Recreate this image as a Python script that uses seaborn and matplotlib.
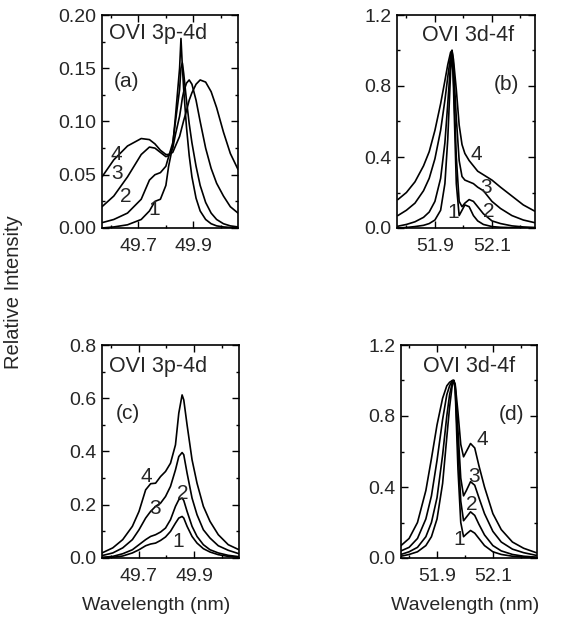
import numpy as np
import pandas as pd
import matplotlib
matplotlib.use("Agg")
import matplotlib.pyplot as plt
from matplotlib.ticker import MultipleLocator, FormatStrFormatter
import seaborn as sns

sns.set_style("ticks")
plt.rcParams['font.family'] = ['Liberation Sans', 'DejaVu Sans']

# ---------------- data ----------------
curves = ["1", "2", "3", "4"]

# panel (a) OVI 3p-4d
a_wl = [49.567, 49.61, 49.66, 49.71, 49.74, 49.76, 49.78, 49.80, 49.81, 49.825,
        49.835, 49.85, 49.855, 49.86, 49.865, 49.875, 49.885, 49.895, 49.91, 49.925,
        49.945, 49.965, 49.985, 50.01, 50.035, 50.063]
a_y1 = [0.0, 0.001, 0.003, 0.008, 0.016, 0.025, 0.027, 0.040, 0.058, 0.077,
        0.105, 0.150, 0.178, 0.152, 0.130, 0.095, 0.068, 0.048, 0.028, 0.016,
        0.008, 0.004, 0.002, 0.001, 0.0005, 0.0]
a_y2 = [0.005, 0.008, 0.014, 0.027, 0.045, 0.050, 0.052, 0.058, 0.067, 0.080,
        0.100, 0.130, 0.150, 0.155, 0.145, 0.120, 0.098, 0.080, 0.058, 0.040,
        0.024, 0.014, 0.008, 0.004, 0.002, 0.001]
a_y3 = [0.020, 0.030, 0.048, 0.069, 0.076, 0.075, 0.071, 0.067, 0.068, 0.075,
        0.088, 0.105, 0.113, 0.122, 0.128, 0.136, 0.139, 0.135, 0.120, 0.100,
        0.075, 0.056, 0.042, 0.030, 0.020, 0.014]
a_y4 = [0.048, 0.064, 0.077, 0.084, 0.083, 0.079, 0.073, 0.069, 0.069, 0.071,
        0.077, 0.086, 0.091, 0.096, 0.101, 0.110, 0.120, 0.127, 0.135, 0.139,
        0.137, 0.128, 0.113, 0.090, 0.070, 0.055]

# panel (b) OVI 3d-4f
b_wl = [51.77, 51.80, 51.83, 51.86, 51.88, 51.90, 51.92, 51.935, 51.945, 51.955,
        51.96, 51.965, 51.975, 51.985, 51.995, 52.005, 52.02, 52.035, 52.05, 52.07,
        52.10, 52.13, 52.17, 52.21, 52.25]
b_y1 = [0.0, 0.003, 0.008, 0.015, 0.025, 0.045, 0.10, 0.25, 0.50, 0.88,
        1.0, 0.80, 0.25, 0.07, 0.10, 0.13, 0.12, 0.07, 0.04, 0.02,
        0.008, 0.004, 0.002, 0.001, 0.0]
b_y2 = [0.01, 0.02, 0.035, 0.06, 0.09, 0.15, 0.28, 0.48, 0.70, 0.93,
        1.0, 0.85, 0.40, 0.15, 0.12, 0.14, 0.16, 0.15, 0.12, 0.08,
        0.04, 0.025, 0.012, 0.006, 0.003]
b_y3 = [0.07, 0.10, 0.14, 0.21, 0.28, 0.39, 0.55, 0.72, 0.85, 0.97,
        1.0, 0.92, 0.62, 0.38, 0.29, 0.27, 0.26, 0.25, 0.23, 0.21,
        0.15, 0.11, 0.07, 0.045, 0.03]
b_y4 = [0.16, 0.20, 0.26, 0.35, 0.43, 0.55, 0.70, 0.83, 0.92, 0.99,
        1.0, 0.95, 0.78, 0.58, 0.47, 0.42, 0.38, 0.35, 0.32, 0.30,
        0.27, 0.23, 0.18, 0.13, 0.095]

# panel (c) OVI 3p-4d
c_wl = [49.567, 49.606, 49.642, 49.677, 49.701, 49.725, 49.743, 49.761, 49.779, 49.797,
        49.815, 49.833, 49.845, 49.857, 49.863, 49.875, 49.893, 49.911, 49.934, 49.958,
        49.988, 50.024, 50.063]
c_y1 = [0.001, 0.0025, 0.0075, 0.019, 0.031, 0.046, 0.0525, 0.056, 0.066, 0.079,
        0.100, 0.131, 0.150, 0.156, 0.150, 0.119, 0.081, 0.056, 0.035, 0.0225,
        0.0125, 0.006, 0.0025]
c_y2 = [0.0025, 0.006, 0.016, 0.031, 0.050, 0.069, 0.081, 0.0875, 0.0975, 0.1125,
        0.144, 0.194, 0.219, 0.225, 0.216, 0.175, 0.119, 0.081, 0.050, 0.031,
        0.019, 0.010, 0.005]
c_y3 = [0.009, 0.019, 0.038, 0.069, 0.106, 0.150, 0.175, 0.194, 0.206, 0.231,
        0.269, 0.331, 0.381, 0.396, 0.388, 0.319, 0.225, 0.1625, 0.106, 0.075,
        0.046, 0.029, 0.016]
c_y4 = [0.019, 0.038, 0.069, 0.119, 0.175, 0.256, 0.279, 0.281, 0.306, 0.325,
        0.356, 0.425, 0.544, 0.6125, 0.594, 0.500, 0.369, 0.281, 0.194, 0.1375,
        0.0875, 0.050, 0.031]

# panel (d) OVI 3d-4f
d_wl = [51.771, 51.80, 51.83, 51.86, 51.88, 51.90, 51.92, 51.935, 51.945, 51.955,
        51.96, 51.965, 51.975, 51.985, 51.995, 52.005, 52.02, 52.035, 52.05, 52.07,
        52.10, 52.13, 52.17, 52.21, 52.255]
d_y1 = [0.01, 0.02, 0.035, 0.07, 0.12, 0.22, 0.42, 0.68, 0.85, 0.98,
        1.0, 0.95, 0.50, 0.20, 0.12, 0.135, 0.155, 0.14, 0.11, 0.07,
        0.035, 0.02, 0.01, 0.005, 0.002]
d_y2 = [0.02, 0.035, 0.06, 0.12, 0.20, 0.34, 0.58, 0.80, 0.92, 0.99,
        1.0, 0.96, 0.62, 0.32, 0.21, 0.23, 0.26, 0.24, 0.19, 0.13,
        0.07, 0.04, 0.02, 0.01, 0.005]
d_y3 = [0.04, 0.06, 0.11, 0.22, 0.35, 0.55, 0.78, 0.92, 0.97, 1.0,
        1.0, 0.97, 0.72, 0.45, 0.35, 0.38, 0.43, 0.41, 0.34, 0.25,
        0.15, 0.09, 0.05, 0.03, 0.015]
d_y4 = [0.07, 0.11, 0.20, 0.38, 0.56, 0.75, 0.90, 0.97, 0.99, 1.0,
        1.0, 0.98, 0.82, 0.64, 0.57, 0.60, 0.645, 0.62, 0.52, 0.40,
        0.25, 0.16, 0.09, 0.055, 0.03]

panel_titles = ["OVI 3p-4d", "OVI 3d-4f", "OVI 3p-4d", "OVI 3d-4f"]
panel_tags = ["(a)", "(b)", "(c)", "(d)"]
x_ticks_ab = [49.7, 49.9]
x_ticks_bd = [51.9, 52.1]
y_label = "Relative Intensity"
x_label = "Wavelength (nm)"


def long_df(wl, ys):
    frames = []
    for name, y in zip(curves, ys):
        frames.append(pd.DataFrame({"wl": wl, "I": y, "curve": name}))
    return pd.concat(frames, ignore_index=True)


panels = [
    dict(df=long_df(a_wl, [a_y1, a_y2, a_y3, a_y4]), xlim=(49.567, 50.063), ylim=(0, 0.2),
         xt=x_ticks_ab, ymaj=0.05, ymin=0.025, fmt="%.2f",
         rect=[102 / 577, 1 - 228 / 624, 136 / 577, 213 / 624],
         title=(0.055, 0.885, "left"), tag=(0.18, 0.69),
         nums={"4": (0.108, 0.344), "3": (0.11, 0.258), "2": (0.176, 0.148), "1": (0.382, 0.086)}),
    dict(df=long_df(b_wl, [b_y1, b_y2, b_y3, b_y4]), xlim=(51.767, 52.251), ylim=(0, 1.2),
         xt=x_ticks_bd, ymaj=0.4, ymin=0.2, fmt="%.1f",
         rect=[397 / 577, 1 - 228 / 624, 138 / 577, 213 / 624],
         title=(0.515, 0.878, "center"), tag=(0.79, 0.674),
         nums={"4": (0.576, 0.346), "3": (0.646, 0.19), "2": (0.667, 0.077), "1": (0.41, 0.074)}),
    dict(df=long_df(c_wl, [c_y1, c_y2, c_y3, c_y4]), xlim=(49.567, 50.063), ylim=(0, 0.8),
         xt=x_ticks_ab, ymaj=0.2, ymin=0.1, fmt="%.1f",
         rect=[102 / 577, 1 - 558 / 624, 137 / 577, 213 / 624],
         title=(0.05, 0.875, "left"), tag=(0.19, 0.68),
         nums={"4": (0.32, 0.383), "3": (0.386, 0.234), "2": (0.587, 0.305), "1": (0.556, 0.078)}),
    dict(df=long_df(d_wl, [d_y1, d_y2, d_y3, d_y4]), xlim=(51.771, 52.258), ylim=(0, 1.2),
         xt=x_ticks_bd, ymaj=0.4, ymin=0.2, fmt="%.1f",
         rect=[401 / 577, 1 - 558 / 624, 136 / 577, 213 / 624],
         title=(0.50, 0.875, "center"), tag=(0.81, 0.672),
         nums={"4": (0.60, 0.555), "3": (0.54, 0.383), "2": (0.517, 0.25), "1": (0.43, 0.086)}),
]

fig = plt.figure(figsize=(5.77, 6.24), dpi=100)
FS = 14
FS_IN = 15

for i, p in enumerate(panels):
    ax = fig.add_axes(p["rect"])
    sns.lineplot(data=p["df"], x="wl", y="I", hue="curve", units="curve", estimator=None,
                 palette=["black"] * 4, legend=False, linewidth=1.2, ax=ax, sort=False)
    ax.set_xlim(*p["xlim"])
    ax.set_ylim(*p["ylim"])
    ax.set_xticks(p["xt"])
    ax.xaxis.set_minor_locator(MultipleLocator(0.1))
    ax.yaxis.set_major_locator(MultipleLocator(p["ymaj"]))
    ax.yaxis.set_minor_locator(MultipleLocator(p["ymin"]))
    ax.yaxis.set_major_formatter(FormatStrFormatter(p["fmt"]))
    ax.set_xticklabels([f"{t:.1f}" for t in p["xt"]])
    ax.set_xlabel("")
    ax.set_ylabel("")
    ax.tick_params(which="both", direction="in", top=True, right=True, width=1.0,
                   labelsize=FS, color="black")
    ax.tick_params(which="major", length=5)
    ax.tick_params(which="minor", length=2.5)
    ax.tick_params(axis="x", pad=7)
    ax.tick_params(axis="y", pad=4)
    for s in ax.spines.values():
        s.set_linewidth(1.2)
        s.set_color("black")
    tx, ty, ha = p["title"]
    ax.text(tx, ty, panel_titles[i], transform=ax.transAxes, ha=ha, va="baseline", fontsize=15.5)
    ax.text(p["tag"][0], p["tag"][1], panel_tags[i], transform=ax.transAxes,
            ha="center", va="center", fontsize=FS_IN)
    for k, (nx, ny) in p["nums"].items():
        ax.text(nx, ny, k, transform=ax.transAxes, ha="center", va="center", fontsize=FS_IN)

fig.text(14 / 577, 1 - 292 / 624, y_label, rotation=90, ha="center", va="center", fontsize=14.5)
fig.text(156 / 577, 1 - 606 / 624, x_label, ha="center", va="center", fontsize=FS)
fig.text(465 / 577, 1 - 606 / 624, x_label, ha="center", va="center", fontsize=FS)

fig.savefig("out.png", dpi=100, facecolor="white")
